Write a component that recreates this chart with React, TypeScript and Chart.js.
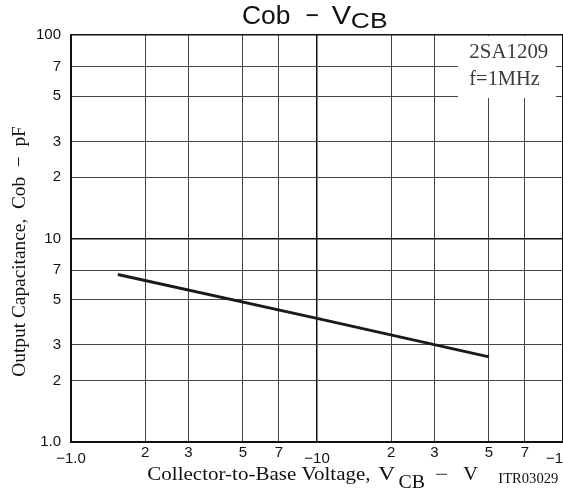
import React, { useEffect, useRef } from "react";
import { Chart, registerables } from "chart.js";

Chart.register(...registerables);

// ---- data ----
const tickValues = [1, 2, 3, 5, 7, 10, 20, 30, 50, 70, 100];
const xTickLabels = ["\u22121.0", "2", "3", "5", "7", "\u221210", "2", "3", "5", "7", "\u2212100"];
const yTickLabels = ["1.0", "2", "3", "5", "7", "10", "2", "3", "5", "7", "100"];
const vcbValues = [1.55, 10, 50]; // |VCB| in volts (negative polarity)
const cobValues = [6.65, 4.05, 2.62]; // pF
const inset = ["2SA1209", "f=1MHz"];

const serif = "'Liberation Serif', 'Times New Roman', serif";
const sans = "'Liberation Sans', Arial, sans-serif";

function drawFit(
  ctx: CanvasRenderingContext2D,
  text: string,
  font: string,
  x0: number,
  x1: number,
  baseline: number,
  color: string
) {
  ctx.save();
  ctx.font = font;
  ctx.fillStyle = color;
  ctx.textAlign = "left";
  ctx.textBaseline = "alphabetic";
  const m = ctx.measureText(text);
  const ink = m.actualBoundingBoxRight + m.actualBoundingBoxLeft;
  let sx = (x1 - x0) / ink;
  sx = Math.max(0.8, Math.min(1.3, sx));
  ctx.translate(x0, baseline);
  ctx.scale(sx, 1);
  ctx.fillText(text, m.actualBoundingBoxLeft, 0);
  ctx.restore();
}

const textPlugin = {
  id: "texts",
  beforeDatasetsDraw(chart: any) {
    const ctx = chart.ctx as CanvasRenderingContext2D;
    // inset box masking the grid
    ctx.save();
    ctx.fillStyle = "#ffffff";
    ctx.fillRect(458, 36, 98, 62);
    ctx.restore();
  },
  afterDraw(chart: any) {
    const ctx = chart.ctx as CanvasRenderingContext2D;
    const c = "#111111";
    // title
    drawFit(ctx, "Cob", `26px ${sans}`, 243, 290, 24, c);
    drawFit(ctx, "\u2212", `26px ${sans}`, 306.5, 318, 24, c);
    drawFit(ctx, "V", `26px ${sans}`, 331.7, 351.7, 24, c);
    drawFit(ctx, "CB", `22px ${sans}`, 352, 386.7, 27.5, c);

    // x axis title
    drawFit(ctx, "Collector-to-Base Voltage,", `18px ${serif}`, 147.3, 370, 480, c);
    drawFit(ctx, "V", `18px ${serif}`, 378.3, 398, 480, c);
    drawFit(ctx, "CB", `18px ${serif}`, 398.5, 425, 488.3, c);
    drawFit(ctx, "\u2212", `18px ${serif}`, 435, 450, 480, c);
    drawFit(ctx, "V", `18px ${serif}`, 463.3, 478, 480, c);
    drawFit(ctx, "ITR03029", `14px ${serif}`, 498.3, 558.3, 483.3, c);

    // y axis title (rotated)
    ctx.save();
    ctx.translate(25, 376.7);
    ctx.rotate(-Math.PI / 2);
    drawFit(ctx, "Output Capacitance,  Cob  \u2212  pF", `19px ${serif}`, 0, 250, 0, c);
    ctx.restore();

    // inset
    drawFit(ctx, inset[0], `20px ${serif}`, 469.3, 548.3, 58.3, "#3a3a3a");
    drawFit(ctx, inset[1], `20px ${serif}`, 469.3, 540, 85, "#3a3a3a");
  },
};

const isDecade = (v: number) => v === 1 || v === 10 || v === 100;

export default function App() {
  const ref = useRef<HTMLCanvasElement | null>(null);
  useEffect(() => {
    if (!ref.current) return;
    const chart = new Chart(ref.current, {
      type: "line",
      data: {
        datasets: [
          {
            data: vcbValues.map((v, i) => ({ x: v, y: cobValues[i] })),
            borderColor: "#1a1a1a",
            borderWidth: 3,
            pointRadius: 0,
            tension: 0,
            fill: false,
          },
        ],
      },
      options: {
        responsive: false,
        animation: false,
        layout: { padding: { top: 35, left: 0, right: 0, bottom: 0 } },
        plugins: { legend: { display: false }, tooltip: { enabled: false }, title: { display: false } },
        scales: {
          x: {
            type: "logarithmic",
            min: 1,
            max: 100,
            afterBuildTicks: (s: any) => {
              s.ticks = tickValues.map((v) => ({ value: v }));
            },
            afterFit: (s: any) => {
              s.height = 53;
              s.paddingLeft = 0;
              s.paddingRight = 0;
            },
            ticks: {
              autoSkip: false,
              maxRotation: 0,
              padding: 2,
              color: "#111",
              font: (ctx: any) => ({
                family: sans,
                size: 15,
                lineHeight: ctx.tick && isDecade(ctx.tick.value) ? 2.0 : 1.2,
              }),
              callback: (_v: any, i: number) => xTickLabels[i],
            },
            grid: {
              drawTicks: false,
              color: (ctx: any) => (ctx.tick && isDecade(ctx.tick.value) ? "#111" : "#444"),
              lineWidth: (ctx: any) => (ctx.tick && isDecade(ctx.tick.value) ? 1.5 : 1),
            },
            border: { display: true, color: "#111", width: 2 },
          },
          y: {
            type: "logarithmic",
            min: 1,
            max: 100,
            afterBuildTicks: (s: any) => {
              s.ticks = tickValues.map((v) => ({ value: v }));
            },
            afterFit: (s: any) => {
              s.width = 71;
              s.paddingTop = 0;
              s.paddingBottom = 0;
            },
            ticks: {
              autoSkip: false,
              padding: 10,
              color: "#111",
              font: { family: sans, size: 15 },
              callback: (_v: any, i: number) => yTickLabels[i],
            },
            grid: {
              drawTicks: false,
              color: (ctx: any) => (ctx.tick && isDecade(ctx.tick.value) ? "#111" : "#444"),
              lineWidth: (ctx: any) => (ctx.tick && isDecade(ctx.tick.value) ? 1.5 : 1),
            },
            border: { display: true, color: "#111", width: 2 },
          },
        },
      },
      plugins: [textPlugin],
    });
    return () => chart.destroy();
  }, []);
  return (
    <div style={{ position: "fixed", left: 0, top: 0, width: 563, height: 495, background: "#fff" }}>
      <canvas ref={ref} width={563} height={495} style={{ display: "block" }} />
    </div>
  );
}
